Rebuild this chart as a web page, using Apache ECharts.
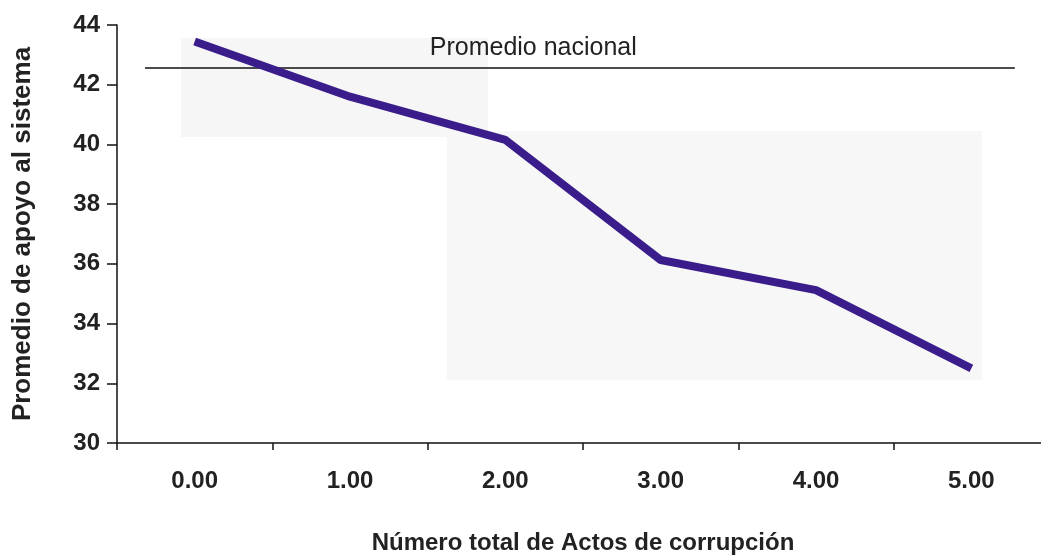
<!DOCTYPE html>
<html>
<head>
<meta charset="utf-8">
<script src="https://cdn.jsdelivr.net/npm/echarts@6/dist/echarts.min.js"></script>
<style>
  html, body { margin: 0; padding: 0; background: #fff; }
  #chart { width: 1041px; height: 555px; }
</style>
</head>
<body>
<div id="chart"></div>
<script>
// datos
var categories = ['0.00', '1.00', '2.00', '3.00', '4.00', '5.00'];
var apoyo = [43.45, 41.6, 40.15, 36.13, 35.12, 32.5];
var promedioNacional = 42.56;
var promedioSpan = [-0.32, 5.28];
var yTicks = [30, 32, 34, 36, 38, 40, 42, 44];

var font = "'Liberation Sans', Arial, sans-serif";

var chart = echarts.init(document.getElementById('chart'));
chart.setOption({
    animation: false,
    backgroundColor: '#fff',
    grid: { left: 117, top: 25, width: 932, height: 418, outerBoundsMode: 'none', containLabel: false },
    // manchas grises del escaneo
    graphic: [
        { type: 'rect', z: -10, shape: { x: 181, y: 38, width: 307, height: 99 }, style: { fill: '#f6f6f6' } },
        { type: 'rect', z: -10, shape: { x: 447, y: 131, width: 535, height: 249 }, style: { fill: '#f7f7f7' } }
    ],
    xAxis: [{
        type: 'category',
        data: categories,
        name: 'Número total de Actos de corrupción',
        nameLocation: 'middle',
        nameGap: 88,
        nameTextStyle: { fontFamily: font, fontSize: 24, fontWeight: 'bold', color: '#222' },
        axisLine: { lineStyle: { color: '#111', width: 1.5 } },
        axisTick: { show: true, length: 7, lineStyle: { color: '#111', width: 1.5 } },
        axisLabel: { fontFamily: font, fontSize: 24, fontWeight: 'bold', color: '#222', margin: 26 },
        splitLine: { show: false }
    }, {
        type: 'value',
        min: -0.5,
        max: 5.5,
        show: false
    }],
    yAxis: {
        type: 'value',
        min: yTicks[0],
        max: yTicks[yTicks.length - 1],
        interval: 2,
        name: 'Promedio de apoyo al sistema',
        nameLocation: 'middle',
        nameGap: 81,
        nameTextStyle: { fontFamily: font, fontSize: 26, fontWeight: 'bold', color: '#222' },
        axisLine: { show: true, onZero: false, lineStyle: { color: '#111', width: 1.5 } },
        axisTick: { show: true, length: 10, lineStyle: { color: '#111', width: 1.5 } },
        axisLabel: { fontFamily: font, fontSize: 24, fontWeight: 'bold', color: '#222', margin: 17 },
        splitLine: { show: false }
    },
    series: [{
        type: 'line',
        xAxisIndex: 1,
        data: [[promedioSpan[0], promedioNacional], [promedioSpan[1], promedioNacional]],
        symbol: 'none',
        lineStyle: { color: '#111', width: 1.5 },
        z: 1,
        markPoint: {
            symbol: 'circle',
            symbolSize: 0,
            data: [{ coord: [2.18, promedioNacional] }],
            label: {
                show: true,
                formatter: 'Promedio nacional',
                offset: [0, -20],
                fontFamily: font,
                fontSize: 25,
                color: '#222'
            }
        }
    }, {
        type: 'line',
        data: apoyo,
        symbol: 'none',
        lineStyle: { color: '#3a1c8a', width: 8 },
        z: 3
    }]
});
</script>
</body>
</html>
